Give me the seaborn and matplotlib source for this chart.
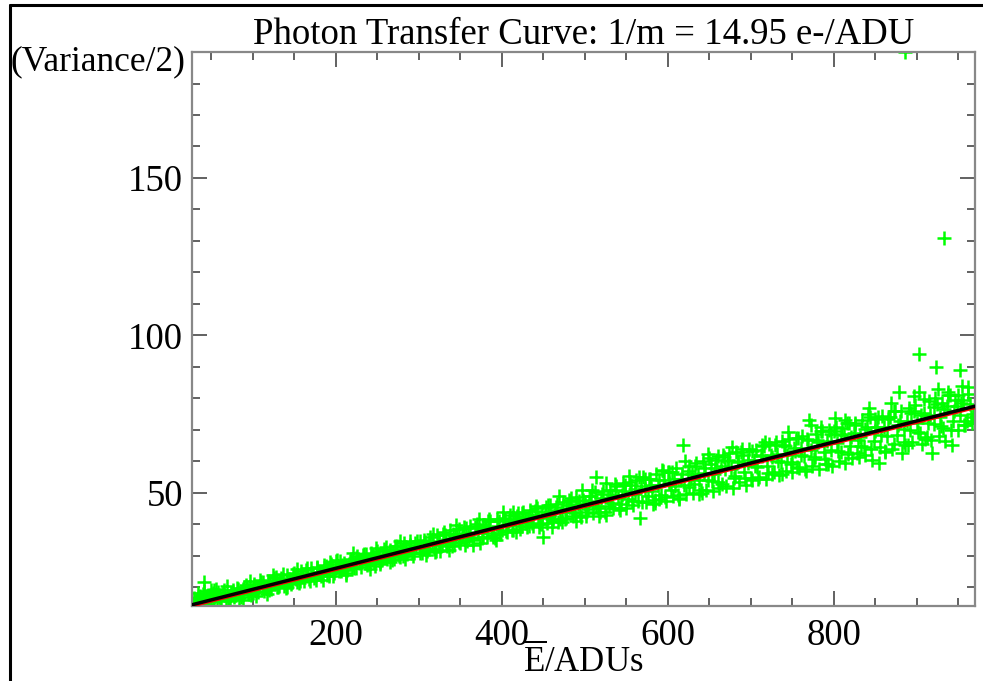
import matplotlib
matplotlib.use("Agg")
import matplotlib.pyplot as plt
import seaborn as sns
from matplotlib.lines import Line2D

# data (three overlapping passes through the dense band)
adu_a = [
    30, 34, 38, 42, 46, 50, 54, 58, 62, 66,
    70, 74, 78, 82, 86, 90, 94, 98, 102, 106,
    110, 114, 118, 122, 126, 130, 134, 138, 142, 146,
    150, 154, 158, 162, 166, 170, 174, 178, 182, 186,
    190, 194, 198, 202, 206, 210, 214, 218, 222, 226,
    230, 234, 238, 242, 246, 250, 254, 258, 262, 266,
    270, 274, 278, 282, 286, 290, 294, 298, 302, 306,
    310, 314, 318, 322, 326, 330, 334, 338, 342, 346,
    350, 354, 358, 362, 366, 370, 374, 378, 382, 386,
    390, 394, 398, 402, 406, 410, 414, 418, 422, 426,
    430, 434, 438, 442, 446, 450, 454, 458, 462, 466,
    470, 474, 478, 482, 486, 490, 494, 498, 502, 506,
    510, 514, 518, 522, 526, 530, 534, 538, 542, 546,
    550, 554, 558, 562, 566, 570, 574, 578, 582, 586,
    590, 594, 598, 602, 606, 610, 614, 618, 622, 626,
    630, 634, 638, 642, 646, 650, 654, 658, 662, 666,
    670, 674, 678, 682, 686, 690, 694, 698, 702, 706,
    710, 714, 718, 722, 726, 730, 734, 738, 742, 746,
    750, 754, 758, 762, 766, 770, 774, 778, 782, 786,
    790, 794, 798, 802, 806, 810, 814, 818, 822, 826,
    830, 834, 838, 842, 846, 850, 854, 858, 862, 866,
    870, 874, 878, 882, 886, 890, 894, 898, 902, 906,
    910, 914, 918, 922, 926, 930, 934, 938, 942, 946,
    950, 954, 958, 962, 966,
    886, 902, 923, 952, 933,
]
var_a = [
    16.5, 18.0, 15.8, 21.5, 17.5, 19.0, 15.5, 18.5, 16.0, 17.8,
    16.0, 18.2, 17.0, 19.5, 16.8, 20.0, 18.0, 17.5, 21.0, 18.5,
    21.5, 18.8, 22.0, 19.5, 23.0, 20.0, 22.8, 20.5, 24.0, 21.0,
    24.5, 21.5, 25.0, 22.0, 23.5, 26.0, 22.8, 26.5, 23.5, 27.0,
    24.0, 27.5, 24.5, 28.5, 25.0, 27.8, 25.5, 29.0, 26.0, 30.0,
    26.5, 30.5, 27.0, 31.0, 28.0, 31.5, 27.5, 32.0, 29.0, 31.8,
    29.0, 33.0, 29.5, 34.0, 30.5, 33.5, 30.8, 34.8, 31.0, 35.0,
    31.5, 36.0, 32.0, 36.5, 31.5, 37.5, 33.0, 38.0, 33.5, 37.0,
    34.0, 39.0, 34.5, 39.5, 35.0, 40.0, 34.0, 39.8, 36.0, 41.0,
    36.5, 41.5, 37.0, 42.0, 37.5, 43.0, 38.0, 42.5, 38.5, 44.0,
    39.0, 44.5, 39.5, 45.0, 40.0, 36.0, 40.5, 46.0, 41.0, 46.5,
    41.5, 47.0, 42.0, 47.5, 42.5, 48.5, 43.0, 47.8, 42.5, 49.0,
    43.5, 55.0, 44.0, 50.5, 43.0, 51.0, 45.0, 52.0, 44.5, 53.0,
    45.0, 53.5, 46.0, 54.0, 42.0, 55.0, 47.0, 54.5, 46.5, 56.0,
    48.0, 57.0, 47.5, 56.5, 49.0, 58.0, 48.0, 65.0, 49.5, 58.5,
    50.0, 59.5, 49.5, 60.0, 51.0, 61.0, 50.5, 60.5, 51.5, 62.0,
    52.0, 62.5, 51.5, 63.0, 53.5, 62.0, 52.5, 64.0, 54.0, 63.5,
    55.0, 65.0, 54.5, 65.5, 56.0, 66.0, 55.5, 66.5, 57.0, 67.0,
    56.5, 67.5, 58.0, 68.0, 57.0, 73.0, 58.5, 68.5, 57.5, 69.5,
    59.0, 70.0, 58.5, 71.0, 60.0, 70.5, 59.5, 72.0, 61.0, 71.5,
    61.5, 73.0, 62.0, 77.0, 60.5, 73.5, 59.5, 74.5, 63.0, 74.0,
    64.0, 76.0, 82.0, 62.5, 65.0, 77.0, 66.0, 78.0, 82.0, 65.5,
    67.0, 79.0, 62.5, 80.0, 68.0, 78.5, 66.5, 81.0, 65.0, 79.5,
    70.0, 84.0, 71.5, 83.5, 72.0,
    190.0, 94.0, 90.0, 89.0, 131.0,
]

adu_b = [
    32, 36, 40, 44, 48, 52, 56, 60, 64, 68,
    72, 76, 80, 84, 88, 92, 96, 100, 104, 108,
    112, 116, 120, 124, 128, 132, 136, 140, 144, 148,
    152, 156, 160, 164, 168, 172, 176, 180, 184, 188,
    192, 196, 200, 204, 208, 212, 216, 220, 224, 228,
    232, 236, 240, 244, 248, 252, 256, 260, 264, 268,
    272, 276, 280, 284, 288, 292, 296, 300, 304, 308,
    312, 316, 320, 324, 328, 332, 336, 340, 344, 348,
    352, 356, 360, 364, 368, 372, 376, 380, 384, 388,
    392, 396, 400, 404, 408, 412, 416, 420, 424, 428,
    432, 436, 440, 444, 448, 452, 456, 460, 464, 468,
    472, 476, 480, 484, 488, 492, 496, 500, 504, 508,
    512, 516, 520, 524, 528, 532, 536, 540, 544, 548,
    552, 556, 560, 564, 568, 572, 576, 580, 584, 588,
    592, 596, 600, 604, 608, 612, 616, 620, 624, 628,
    632, 636, 640, 644, 648, 652, 656, 660, 664, 668,
    672, 676, 680, 684, 688, 692, 696, 700, 704, 708,
    712, 716, 720, 724, 728, 732, 736, 740, 744, 748,
    752, 756, 760, 764, 768, 772, 776, 780, 784, 788,
    792, 796, 800, 804, 808, 812, 816, 820, 824, 828,
    832, 836, 840, 844, 848, 852, 856, 860, 864, 868,
    872, 876, 880, 884, 888, 892, 896, 900, 904, 908,
    912, 916, 920, 924, 928, 932, 936, 940, 944, 948,
    952, 956, 960, 964, 968,
]
var_b = [
    16.2, 15.5, 17.8, 16.5, 15.3, 18.1, 19.3, 16.8, 18.1, 16.3,
    16.5, 19.1, 17.7, 16.6, 19.3, 20.7, 17.9, 19.8, 17.3, 20.1,
    21.5, 20.2, 19.0, 21.7, 23.2, 20.3, 22.2, 19.8, 22.5, 21.6,
    22.6, 21.4, 24.1, 25.6, 22.7, 24.6, 22.2, 24.9, 24.0, 26.6,
    23.6, 26.6, 28.2, 25.0, 27.1, 24.4, 27.3, 26.3, 29.1, 27.6,
    29.0, 30.6, 27.4, 29.5, 26.8, 29.7, 28.7, 31.5, 30.0, 28.7,
    33.2, 29.8, 31.9, 29.0, 32.3, 31.0, 34.1, 32.5, 31.0, 34.2,
    32.1, 34.4, 31.1, 34.7, 33.3, 36.6, 34.8, 33.2, 36.6, 38.5,
    36.8, 33.3, 37.1, 35.6, 39.2, 37.2, 35.5, 39.1, 41.1, 37.1,
    35.7, 39.5, 38.1, 41.6, 39.6, 38.0, 41.5, 43.5, 39.5, 41.9,
    42.0, 40.4, 44.1, 42.0, 40.2, 44.0, 46.1, 41.7, 44.4, 40.6,
    43.9, 41.8, 46.0, 48.2, 43.4, 46.3, 42.3, 46.5, 44.9, 48.8,
    50.3, 45.2, 48.3, 44.0, 48.4, 46.7, 50.9, 48.4, 46.3, 50.7,
    47.9, 52.3, 49.7, 47.4, 52.0, 54.5, 49.1, 52.3, 47.7, 52.4,
    49.2, 54.0, 56.5, 50.9, 54.3, 49.3, 54.4, 52.4, 57.0, 54.2,
    52.7, 56.1, 51.0, 56.3, 54.1, 59.0, 56.1, 53.5, 58.6, 61.3,
    60.5, 57.4, 54.7, 60.1, 62.8, 56.6, 60.3, 54.8, 60.3, 58.1,
    62.0, 64.9, 58.4, 62.1, 56.5, 62.3, 59.8, 65.2, 62.0, 59.1,
    64.1, 58.1, 64.1, 61.6, 67.2, 63.7, 60.8, 66.6, 69.6, 62.8,
    66.3, 63.6, 69.5, 65.9, 62.8, 68.8, 72.0, 64.8, 68.9, 62.7,
    67.8, 64.5, 70.8, 74.1, 66.5, 70.9, 64.4, 70.9, 68.1, 74.2,
    76.1, 68.3, 72.8, 66.0, 72.8, 70.0, 76.1, 72.3, 68.9, 75.4,
    67.7, 74.7, 71.7, 78.2, 74.2, 70.6, 77.4, 80.9, 72.7, 77.4,
    74.8, 79.5, 72.8, 78.1, 74.9,
]

adu_c = [
    33, 37, 41, 45, 49, 53, 57, 61, 65, 69,
    73, 77, 81, 85, 89, 93, 97, 101, 105, 109,
    113, 117, 121, 125, 129, 133, 137, 141, 145, 149,
    153, 157, 161, 165, 169, 173, 177, 181, 185, 189,
    193, 197, 201, 205, 209, 213, 217, 221, 225, 229,
    233, 237, 241, 245, 249, 253, 257, 261, 265, 269,
    273, 277, 281, 285, 289, 293, 297, 301, 305, 309,
    313, 317, 321, 325, 329, 333, 337, 341, 345, 349,
    353, 357, 361, 365, 369, 373, 377, 381, 385, 389,
    393, 397, 401, 405, 409, 413, 417, 421, 425, 429,
    433, 437, 441, 445, 449, 453, 457, 461, 465, 469,
    473, 477, 481, 485, 489, 493, 497, 501, 505, 509,
    513, 517, 521, 525, 529, 533, 537, 541, 545, 549,
    553, 557, 561, 565, 569, 573, 577, 581, 585, 589,
    593, 597, 601, 605, 609, 613, 617, 621, 625, 629,
    633, 637, 641, 645, 649, 653, 657, 661, 665, 669,
    673, 677, 681, 685, 689, 693, 697, 701, 705, 709,
    713, 717, 721, 725, 729, 733, 737, 741, 745, 749,
    753, 757, 761, 765, 769, 773, 777, 781, 785, 789,
    793, 797, 801, 805, 809, 813, 817, 821, 825, 829,
    833, 837, 841, 845, 849, 853, 857, 861, 865, 869,
    873, 877, 881, 885, 889, 893, 897, 901, 905, 909,
    913, 917, 921, 925, 929, 933, 937, 941, 945, 949,
    953, 957, 961, 965,
]
var_c = [
    15.3, 17.1, 18.9, 14.8, 17.1, 19.0, 16.6, 15.7, 19.0, 20.4,
    15.5, 17.9, 19.7, 17.7, 16.0, 19.9, 22.1, 18.1, 20.2, 22.3,
    19.6, 17.8, 21.8, 24.0, 19.9, 22.1, 24.2, 20.0, 22.4, 24.3,
    25.8, 21.8, 24.0, 26.0, 21.9, 24.3, 26.1, 24.1, 22.4, 26.3,
    28.1, 23.6, 26.1, 28.2, 25.9, 23.9, 28.3, 30.7, 26.2, 28.6,
    30.1, 27.7, 25.8, 30.2, 32.5, 28.1, 30.5, 32.6, 28.1, 30.7,
    32.2, 34.7, 29.8, 32.4, 34.8, 29.8, 32.6, 34.7, 32.3, 30.2,
    34.3, 36.9, 31.5, 34.4, 36.8, 34.1, 31.7, 36.8, 39.6, 34.2,
    36.3, 38.9, 35.9, 33.4, 38.8, 41.7, 36.0, 38.9, 41.7, 35.8,
    35.0, 40.9, 43.9, 37.7, 40.9, 43.8, 37.5, 41.0, 43.6, 40.4,
    39.5, 42.8, 45.9, 39.2, 42.8, 45.6, 42.2, 39.2, 45.5, 48.8,
    40.8, 44.7, 47.7, 44.0, 40.9, 47.5, 50.9, 43.9, 47.4, 50.8,
    45.8, 42.5, 49.5, 53.1, 45.7, 49.4, 52.8, 45.2, 49.3, 52.4,
    55.3, 47.4, 51.2, 55.0, 46.9, 51.1, 54.4, 50.4, 46.8, 54.1,
    57.1, 48.5, 53.0, 56.5, 52.1, 48.4, 56.1, 60.1, 51.8, 55.9,
    58.5, 53.9, 50.0, 58.0, 62.3, 53.6, 57.8, 61.8, 52.9, 57.6,
    60.0, 64.5, 55.3, 59.7, 64.0, 54.6, 59.4, 63.2, 58.5, 54.3,
    61.7, 66.1, 56.2, 61.3, 65.3, 60.2, 55.9, 64.7, 69.3, 59.7,
    63.2, 67.3, 62.1, 57.6, 66.6, 71.5, 61.5, 66.2, 70.9, 60.6,
    59.2, 68.7, 73.7, 63.2, 68.2, 73.0, 62.3, 67.8, 72.1, 66.6,
    64.9, 70.2, 75.1, 63.9, 69.7, 74.1, 68.3, 63.4, 73.4, 78.5,
    65.6, 71.6, 76.1, 70.2, 65.1, 75.3, 80.7, 69.4, 74.7, 79.9,
    72.0, 66.6, 77.3, 82.9, 71.1, 76.7, 82.0, 69.9, 76.1, 80.9,
    78.4, 71.6, 81.4, 74.2,
]

mean_adu = adu_a + adu_b + adu_c
half_var = var_a + var_b + var_c

# linear fit (black) and second fit (red)
fit_x = [27, 970]
fit_black = [14.4, 77.5]
fit_red = [14.0, 77.0]

title = "Photon Transfer Curve: 1/m = 14.95 e-/ADU"

sns.set_theme(style="ticks")
plt.rcParams["font.family"] = ["Liberation Serif", "DejaVu Serif"]
plt.rcParams["mathtext.fontset"] = "custom"
plt.rcParams["mathtext.rm"] = "Liberation Serif"
plt.rcParams["text.color"] = "black"
plt.rcParams["axes.labelcolor"] = "black"

fig = plt.figure(figsize=(9.83, 6.81), dpi=100)
ax = fig.add_axes([0.1953, 0.1101, 0.7966, 0.8135])

sns.scatterplot(x=mean_adu, y=half_var, marker="+", color="#00ff00",
                s=100, linewidth=1.8, ax=ax, zorder=2)
sns.lineplot(x=fit_x, y=fit_red, color="red", linewidth=2.2, ax=ax, zorder=3)
sns.lineplot(x=fit_x, y=fit_black, color="black", linewidth=2.5, ax=ax, zorder=4)

ax.set_xlim(27, 970)
ax.set_ylim(14, 190)
ax.set_xticks([200, 400, 600, 800])
ax.set_xticks(range(50, 970, 50), minor=True)
ax.set_yticks([50, 100, 150])
ax.set_yticks(range(20, 190, 10), minor=True)

for s in ax.spines.values():
    s.set_color("#888888")
    s.set_linewidth(1.6)
ax.tick_params(which="both", direction="in", top=True, right=True,
               color="#555555", width=1.3, labelsize=26.5, labelcolor="black")
ax.tick_params(which="major", length=11)
ax.tick_params(which="minor", length=6)
ax.tick_params(axis="x", which="major", pad=9)
ax.tick_params(axis="y", which="major", pad=6.5)

ax.set_title(title, fontsize=26.5, pad=3)
ax.set_xlabel(r"$\overline{\mathrm{E}}$/ADUs", fontsize=25, labelpad=-7)
ax.set_ylabel("")
fig.text(0.011, 0.909, "(Variance/2)", fontsize=25.5, ha="left", va="center")

# outer frame
fig.add_artist(Line2D([10 / 983, 10 / 983], [0, 1 - 5 / 681], color="black", lw=2.2))
fig.add_artist(Line2D([10 / 983, 1], [1 - 5 / 681, 1 - 5 / 681], color="black", lw=2.2))

fig.savefig("out.png", dpi=100)
